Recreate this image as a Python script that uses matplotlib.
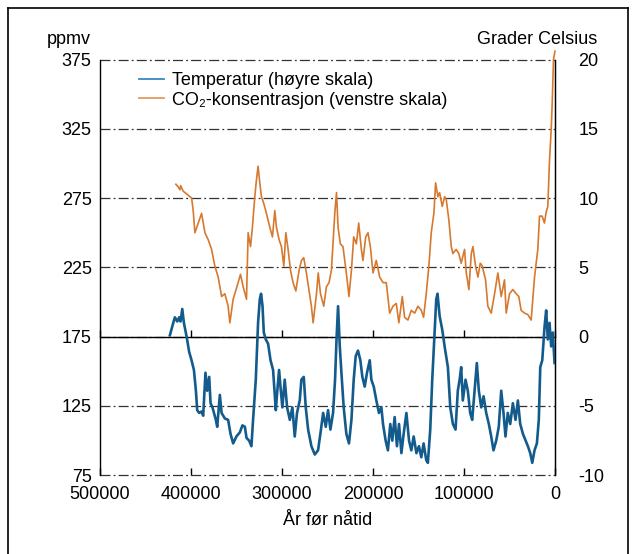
import matplotlib
matplotlib.use('Agg')
import matplotlib.pyplot as plt
from matplotlib.lines import Line2D

# -----------------------------------------------------------------------------
# Data
# -----------------------------------------------------------------------------
co2_age = [416600, 414000, 412200, 411400, 408600, 404800, 399300, 397600, 395700,
           392100, 388400, 386600, 384700, 381100, 377400, 373800, 370100, 366400,
           362800, 359200, 357300, 353700, 348200, 345600, 342700, 339000, 337200,
           334600, 332500, 329900, 328100, 326300, 324400, 322600, 320000, 317100,
           313400, 310500, 307900, 306100, 303200, 300600, 298000, 295800, 293300,
           290700, 287800, 284800, 281200, 278600, 276100, 273200, 267700, 265800,
           262100, 260200, 257700, 254100, 251200, 248300, 245700, 244000, 242000,
           240100, 238400, 235900, 233000, 229300, 226400, 223700, 221200, 218300,
           215700, 212800, 211000, 208000, 205500, 202900, 200000, 196400, 192600,
           189000, 185400, 181700, 178100, 174400, 171600, 167800, 165300, 161600,
           157900, 154200, 150600, 146900, 144400, 141500, 138600, 136000, 133100,
           131200, 128700, 126800, 123900, 121300, 119500, 116600, 114000, 112200,
           108600, 105700, 103100, 99400, 97500, 94600, 92000, 90200, 87300, 84700,
           82100, 80000, 76300, 73800, 70100, 66400, 62800, 59100, 55500, 53600,
           50000, 46300, 42700, 39800, 37200, 33500, 29900, 26200, 22500, 18900,
           17000, 14100, 11600, 9700, 7900, 6000, 4200, 3100, 1650, 0]
co2_ppmv = [285, 283, 281, 284, 280, 278, 275, 266, 250,
            257, 264, 257, 250, 245, 238, 226, 218, 204,
            206, 197, 185, 202, 214, 220, 211, 202, 250,
            240, 254, 276, 288, 298, 286, 276, 271, 264,
            254, 247, 266, 254, 245, 240, 226, 250, 238,
            223, 214, 208, 223, 230, 232, 221, 197, 185,
            206, 221, 206, 197, 211, 214, 223, 242, 264,
            279, 254, 242, 240, 221, 204, 223, 247, 242,
            257, 238, 230, 247, 250, 240, 221, 230, 218,
            214, 214, 192, 197, 199, 185, 204, 189, 187,
            194, 192, 197, 194, 189, 206, 226, 250, 264,
            286, 276, 279, 269, 276, 274, 259, 240, 235,
            238, 235, 228, 238, 221, 209, 235, 240, 226, 218,
            228, 226, 216, 197, 192, 206, 221, 204, 216, 192,
            206, 209, 206, 204, 194, 192, 191, 187, 218, 238,
            262, 262, 257, 265, 269, 303, 324, 343, 375, 381]

temp_age = [423200, 419500, 417700, 415100, 413000, 411500, 409600, 407800, 404800,
            402000, 399400, 396800, 394600, 393200, 391000, 388500, 386600, 384100,
            382200, 380000, 378500, 376400, 372700, 371200, 368300, 366400, 362800,
            359200, 356600, 353700, 350100, 346300, 343500, 340800, 339000, 336100,
            333600, 331800, 328800, 326300, 324400, 323000, 321400, 320000, 317800,
            315300, 312600, 309800, 306800, 305400, 303200, 301700, 299600, 297000,
            294400, 291400, 288600, 286000, 283500, 280500, 278700, 276100, 273900,
            271300, 267700, 264000, 260400, 257800, 254800, 251900, 249400, 246800,
            243900, 241700, 240100, 238400, 236500, 234700, 232200, 229300, 226400,
            223700, 221200, 219000, 216500, 213900, 211700, 209100, 206600, 203600,
            201800, 199200, 196300, 193500, 190800, 189000, 186100, 183600, 181000,
            178800, 176200, 173700, 171400, 168800, 166300, 163300, 160400, 157900,
            155300, 152300, 149500, 146900, 144400, 141500, 139700, 137100, 134900,
            132300, 130500, 129100, 126800, 123900, 121300, 117700, 115100, 112200,
            109300, 106800, 104800, 103100, 101300, 98300, 95800, 93200, 91000,
            88400, 85900, 83700, 81100, 78500, 75600, 72700, 70100, 67600, 64600,
            61800, 59100, 56600, 54400, 51900, 49200, 46300, 43400, 40800, 38200,
            35300, 32300, 29800, 27200, 25000, 22500, 19900, 17800, 16200, 14000,
            11500, 9700, 7900, 6000, 4200, 2400, 500]
temp_c = [0.1, 1.0, 1.4, 1.1, 1.4, 1.1, 2.0, 1.0, 0.0,
          -1.1, -1.7, -2.4, -3.9, -5.3, -5.5, -5.4, -5.7, -2.6,
          -3.9, -2.9, -4.8, -5.1, -6.0, -6.5, -4.2, -5.5, -5.9,
          -6.0, -7.0, -7.7, -7.2, -6.9, -6.4, -6.5, -7.3, -7.5,
          -7.9, -6.0, -3.1, 1.0, 2.7, 3.1, 2.2, 0.3, -0.2,
          -0.5, -1.7, -2.4, -5.3, -4.1, -2.4, -3.6, -5.1, -3.1,
          -5.1, -6.0, -5.1, -7.2, -5.5, -4.6, -3.1, -2.9, -5.1,
          -6.7, -7.9, -8.5, -8.2, -7.0, -5.5, -6.5, -5.3, -6.7,
          -5.5, -3.1, -0.2, 2.2, -0.7, -2.6, -5.1, -7.0, -7.7,
          -6.0, -3.1, -1.4, -1.0, -1.7, -2.9, -3.6, -2.6, -1.7,
          -3.1, -3.6, -4.6, -5.5, -5.1, -6.3, -7.5, -8.2, -6.3,
          -7.5, -5.8, -7.9, -6.3, -8.4, -7.0, -5.5, -7.5, -8.2,
          -7.2, -8.4, -7.9, -8.7, -7.7, -8.9, -9.1, -6.7, -3.1,
          0.3, 2.7, 3.1, 1.5, 0.5, -0.7, -2.2, -5.1, -6.3,
          -6.7, -3.9, -3.1, -2.2, -4.6, -3.1, -3.9, -5.5, -6.0,
          -3.9, -1.9, -3.9, -5.1, -4.3, -5.5, -6.3, -7.2, -8.2, -7.5,
          -6.5, -3.9, -5.5, -7.2, -5.5, -6.3, -4.8, -6.0, -4.6, -6.3,
          -7.0, -7.5, -7.9, -8.4, -9.1, -8.2, -7.7, -6.0, -2.2, -1.7,
          0.7, 1.9, -0.2, 1.0, -0.7, 0.3, -1.9]

x_ticks = [500000, 400000, 300000, 200000, 100000, 0]
ppmv_ticks = [75, 125, 175, 225, 275, 325, 375]
temp_ticks = [-10, -5, 0, 5, 10, 15, 20]

# -----------------------------------------------------------------------------
# Figure
# -----------------------------------------------------------------------------
plt.rcParams['font.family'] = ['Liberation Sans', 'DejaVu Sans']
plt.rcParams['font.size'] = 13
plt.rcParams['axes.unicode_minus'] = False

blue = '#135b8c'
orange = '#d6792f'
grid_c = '#333333'

fig = plt.figure(figsize=(6.36, 5.54), dpi=100)
ax = fig.add_axes([100 / 636, 1 - 475.3 / 554, 455 / 636, (475.3 - 59.5) / 554])
ax2 = ax.twinx()

ax.plot(co2_age, co2_ppmv, color=orange, lw=1.2, clip_on=False, zorder=3)
ax2.plot(temp_age, temp_c, color=blue, lw=1.9, zorder=3)

ax.set_xlim(500000, 0)
ax.set_ylim(75, 375)
ax2.set_ylim(-10, 20)

ax.set_xticks(x_ticks)
ax.set_xticklabels([str(t) for t in x_ticks])
ax.set_yticks(ppmv_ticks)
ax2.set_yticks(temp_ticks)

ax.grid(axis='y', color=grid_c, lw=0.9, linestyle=(0, (8, 2.5, 1.5, 2.5)))
for gl in ax.get_ygridlines():
    gl.set_clip_on(False)

for s in ['top', 'bottom']:
    ax.spines[s].set_visible(False)
ax.spines['left'].set_linewidth(1.0)
ax2.spines['left'].set_visible(False)
ax2.spines['bottom'].set_visible(False)
ax2.spines['right'].set_linewidth(1.0)
ax2.spines['top'].set_position(('data', 0))
ax2.spines['top'].set_linewidth(1.0)

ax.tick_params(axis='x', direction='in', length=5, width=1, pad=8)
ax.tick_params(axis='y', length=0, pad=6)
ax2.tick_params(axis='y', length=0, pad=17)
ax2.xaxis.set_visible(True)
ax2.tick_params(axis='x', top=True, bottom=False, labeltop=False, labelbottom=False,
                direction='out', length=5, width=1)

ax.set_xlabel('År før nåtid', labelpad=6)
fig.text(69 / 636, 1 - 40 / 554, 'ppmv', ha='center', va='center')
fig.text(597 / 636, 1 - 40 / 554, 'Grader Celsius', ha='right', va='center')

handles = [Line2D([], [], color='#3b86bf', lw=1.3),
           Line2D([], [], color='#e39a62', lw=1.3)]
labels = ['Temperatur (høyre skala)', 'CO₂-konsentrasjon (venstre skala)']
ax2.legend(handles, labels, loc='upper left', bbox_to_anchor=(0.085, 0.97),
           frameon=False, handlelength=1.4, handletextpad=0.45, labelspacing=0.15,
           borderpad=0, borderaxespad=0)

# outer frame
for xs, ys in [([8 / 636, 8 / 636], [0, 1 - 8 / 554]),
               ([8 / 636, 628 / 636], [1 - 8 / 554, 1 - 8 / 554]),
               ([628 / 636, 628 / 636], [1 - 8 / 554, 0])]:
    fig.add_artist(Line2D(xs, ys, color='black', lw=1.2))

fig.savefig('out.png', dpi=100)
